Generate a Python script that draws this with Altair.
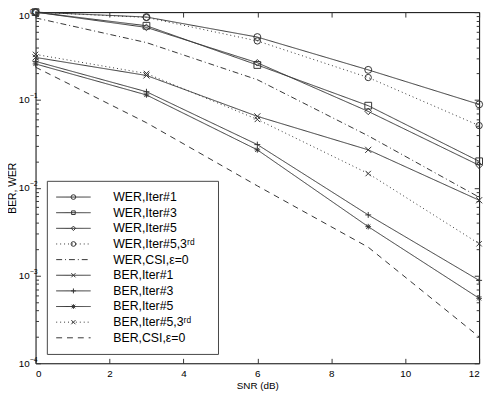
import altair as alt
import pandas as pd

# ---------------- data ----------------
snr = [0, 3, 6, 9, 12]
series_names = [
    "WER,Iter#1", "WER,Iter#3", "WER,Iter#5", "WER,Iter#5,3ʳᵈ", "WER,CSI,ε=0",
    "BER,Iter#1", "BER,Iter#3", "BER,Iter#5", "BER,Iter#5,3ʳᵈ", "BER,CSI,ε=0",
]
wer_iter1 = [1.0, 0.88, 0.52, 0.22, 0.089]
wer_iter3 = [1.0, 0.70, 0.25, 0.086, 0.020]
wer_iter5 = [1.0, 0.67, 0.265, 0.074, 0.018]
wer_iter5_3rd = [1.0, 0.87, 0.47, 0.18, 0.051]
wer_csi = [0.86, 0.45, 0.17, 0.039, 0.0078]
ber_iter1 = [0.305, 0.19, 0.065, 0.027, 0.0072]
ber_iter3 = [0.275, 0.124, 0.031, 0.0049, 0.00088]
ber_iter5 = [0.257, 0.114, 0.027, 0.0036, 0.00055]
ber_iter5_3rd = [0.33, 0.20, 0.060, 0.0145, 0.0023]
ber_csi = [0.236, 0.055, 0.0105, 0.0021, 0.0002]
series_values = [wer_iter1, wer_iter3, wer_iter5, wer_iter5_3rd, wer_csi,
                 ber_iter1, ber_iter3, ber_iter5, ber_iter5_3rd, ber_csi]
x_ticks = [0, 2, 4, 6, 8, 10, 12]
y_decades = [1e-4, 1e-3, 1e-2, 1e-1, 1]
y_all_ticks = [m * d for d in [1e-4, 1e-3, 1e-2, 1e-1] for m in range(1, 10)] + [1]

# ---------------- styles ----------------
INK = "#333333"
FONT = "Liberation Sans"
W, H = 451, 357
SOLID, DOT, DASHDOT, DASH = [1, 0], [1, 3], [6, 3, 1, 3], [6, 5]
XS = "M-1,-1L1,1M-1,1L1,-1"
PLUS = "M-1,0L1,0M0,-1L0,1"
STAR = "M-1,0L1,0M0,-1L0,1M-0.75,-0.75L0.75,0.75M-0.75,0.75L0.75,-0.75"
dashes = [SOLID, SOLID, SOLID, DOT, DASHDOT, SOLID, SOLID, SOLID, DOT, DASH]
shapes = ["circle", "square", "diamond", "circle", None, XS, PLUS, STAR, XS, None]
sizes = [50, 30, 45, 50, 0, 40, 55, 50, 40, 0]

rows = []
for name, vals in zip(series_names, series_values):
    for s, v in zip(snr, vals):
        rows.append({"series": name, "snr": s, "val": v})
df = pd.DataFrame(rows)

marker_names = [n for n, s in zip(series_names, shapes) if s]
marker_shapes = [s for s in shapes if s]
marker_sizes = [z for z, s in zip(sizes, shapes) if s]
df_pts = df[df["series"].isin(marker_names)]

xscale = alt.Scale(domain=[0, 12], nice=False, zero=False)
yscale = alt.Scale(type="log", domain=[1e-4, 1], nice=False)

major_test = "abs(log(datum.value)/LN10 - round(log(datum.value)/LN10)) < 0.001"
tick_size_cond = {"condition": {"test": major_test, "value": 5}, "value": 3}
top_test = "datum.value >= 0.999"

# main axes: labels + titles
xA = alt.Axis(orient="bottom", values=x_ticks, ticks=False, domain=False, grid=False,
              labelFont=FONT, labelFontSize=10, labelColor="#000", labelPadding=5,
              title="SNR (dB)", titleFont=FONT, titleFontSize=10, titleFontWeight="normal",
              titleColor="#000", titlePadding=3)
yA = alt.Axis(orient="left", values=y_decades, ticks=False, domain=False, grid=False,
              labelFont=FONT, labelFontSize=10, labelColor="#000", labelPadding=6.5,
              labelExpr="'10'",
              labelOffset={"condition": {"test": top_test, "value": 3}, "value": 0},
              title="BER, WER", titleFont=FONT, titleFontSize=10.5, titleFontWeight="normal",
              titleColor="#000", titleX=-20, titleBaseline="alphabetic")
# exponent labels of the decades (superscript look)
yE = alt.Axis(orient="left", values=y_decades, ticks=False, domain=False, grid=False,
              labelFont=FONT, labelFontSize=7, labelColor="#000", labelPadding=6.5,
              labelAlign="left",
              labelOffset={"condition": {"test": top_test, "value": -1}, "value": -4},
              labelExpr="format(round(log(datum.value)/LN10), 'd')", title=None)
# inward ticks (bottom edge / left edge)
xB = alt.Axis(orient="top", offset=-H, values=x_ticks, labels=False, domain=False, grid=False,
              ticks=True, tickSize=5, tickColor=INK, title=None)
yB = alt.Axis(orient="right", offset=-W, values=y_all_ticks, labels=False, domain=False,
              grid=False, ticks=True, tickSize=tick_size_cond, tickColor=INK, title=None)
# inward ticks (top edge / right edge)
xC = alt.Axis(orient="bottom", offset=-H, values=x_ticks, labels=False, domain=False, grid=False,
              ticks=True, tickSize=5, tickColor=INK, title=None)
yC = alt.Axis(orient="left", offset=-W, values=y_all_ticks, labels=False, domain=False,
              grid=False, ticks=True, tickSize=tick_size_cond, tickColor=INK, title=None)

lines = alt.Chart(df).mark_line(color=INK, strokeWidth=1).encode(
    x=alt.X("snr:Q", scale=xscale, axis=xA),
    y=alt.Y("val:Q", scale=yscale, axis=yA),
    strokeDash=alt.StrokeDash("series:N", scale=alt.Scale(domain=series_names, range=dashes),
                              legend=None),
)

points = alt.Chart(df_pts).mark_point(filled=False, color=INK, strokeWidth=1, opacity=1).encode(
    x=alt.X("snr:Q", scale=xscale, axis=xB),
    y=alt.Y("val:Q", scale=yscale, axis=yB),
    shape=alt.Shape("series:N", scale=alt.Scale(domain=marker_names, range=marker_shapes),
                    legend=None),
    size=alt.Size("series:O", scale=alt.Scale(domain=marker_names, range=marker_sizes),
                  legend=None),
)

dummy = alt.Chart(df).mark_point(opacity=0).encode(
    x=alt.X("snr:Q", scale=xscale, axis=xC),
    y=alt.Y("val:Q", scale=yscale, axis=yC),
)

dummy2 = alt.Chart(df).mark_point(opacity=0).encode(
    y=alt.Y("val:Q", scale=yscale, axis=yE),
)

# ---------------- manual legend ----------------
one = alt.Data(values=[{}])
legend_layers = [
    alt.Chart(one).mark_rect(fill="white", stroke="#444", strokeWidth=1).encode(
        x=alt.value(12), x2=alt.value(186), y=alt.value(172), y2=alt.value(348))
]
for i, name in enumerate(series_names):
    yy = 188 + 15.9 * i
    legend_layers.append(
        alt.Chart(one).mark_rule(color=INK, strokeWidth=1, strokeDash=dashes[i]).encode(
            x=alt.value(21), x2=alt.value(56), y=alt.value(yy)))
    if shapes[i]:
        legend_layers.append(
            alt.Chart(one).mark_point(shape=shapes[i], size=sizes[i] * 0.45, filled=False,
                                      color=INK, strokeWidth=1, opacity=1).encode(
                x=alt.value(38.5), y=alt.value(yy)))
    legend_layers.append(
        alt.Chart(one).mark_text(text=name, align="left", baseline="middle", font=FONT,
                                 fontSize=12.5, color="#000").encode(
            x=alt.value(79), y=alt.value(yy)))

chart = alt.layer(lines, points, dummy, dummy2, *legend_layers).resolve_axis(
    x="independent", y="independent"
).properties(
    width=W, height=H,
    padding={"left": 28, "top": 1, "right": 8, "bottom": 27},
    autosize=alt.AutoSizeParams(type="none"),
).configure_view(stroke="#000", strokeWidth=1)

chart.save("out.html", embed_options={"renderer": "svg", "actions": False})
